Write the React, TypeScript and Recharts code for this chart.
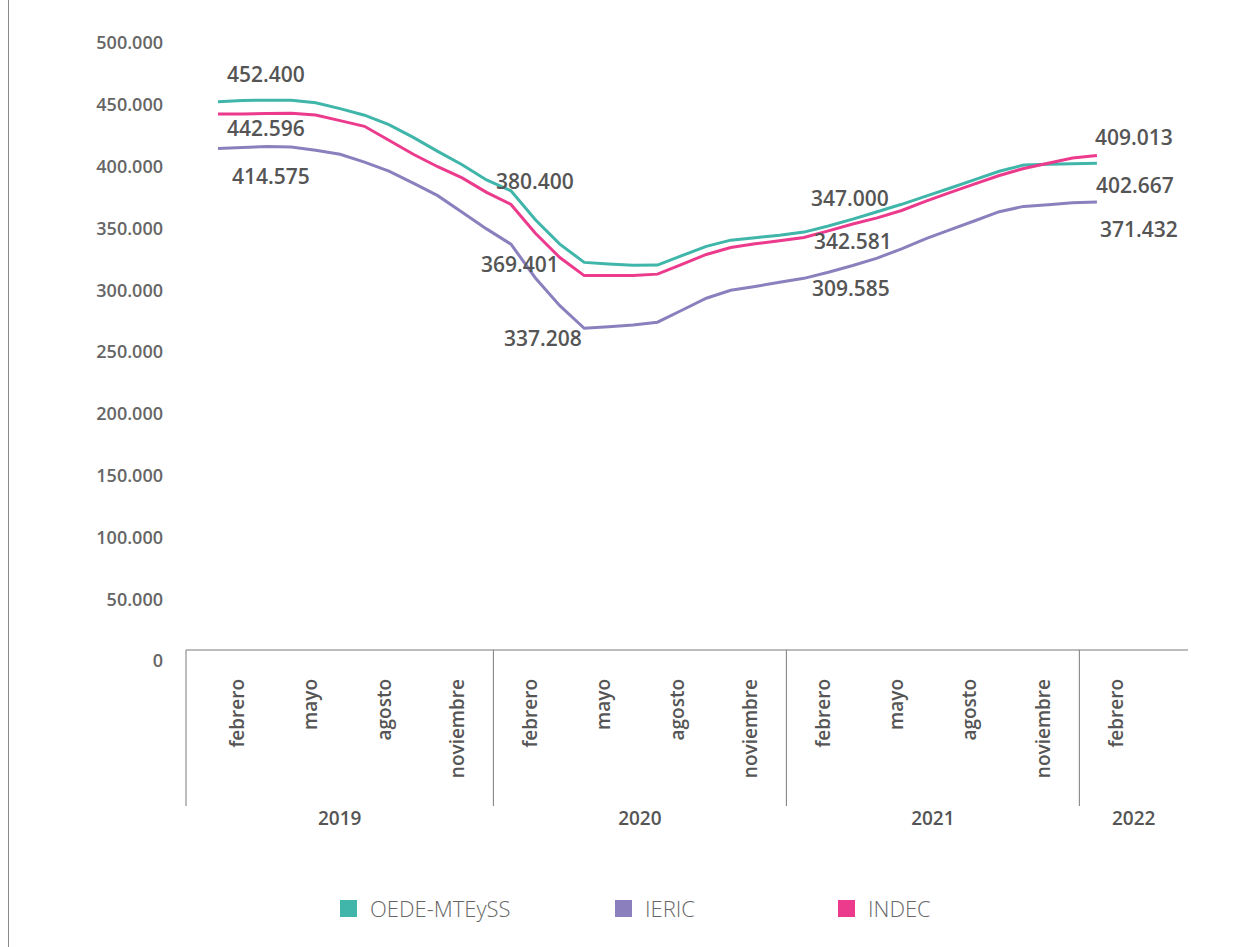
import { LineChart, Line, XAxis, YAxis, LabelList } from 'recharts';

// Puestos de trabajo registrados en la construcción, febrero 2019 - febrero 2022

const meses = [
  'enero', 'febrero', 'marzo', 'abril', 'mayo', 'junio',
  'julio', 'agosto', 'septiembre', 'octubre', 'noviembre', 'diciembre',
];
const anios = ['2019', '2020', '2021', '2022'];
const mesesVisibles = ['febrero', 'mayo', 'agosto', 'noviembre'];
const yTicks = [0, 50000, 100000, 150000, 200000, 250000, 300000, 350000, 400000, 450000, 500000];

const oede = [
  452400, 453500, 453700, 453600, 451600, 446900, 441600, 433900, 423600, 412300, 401500, 389200,
  380400, 357000, 337300, 322500, 321200, 320200, 320300, 327900, 335500, 340500, 342500, 344500,
  347000, 352000, 357500, 363500, 369500, 376100, 382700, 389400, 396200, 401200, 401900, 402400,
  402667,
];
const ieric = [
  414575, 415400, 416200, 415800, 413200, 410000, 403600, 396300, 386600, 376500, 363100, 349600,
  337208, 309900, 287500, 269200, 270500, 271800, 274100, 283800, 293500, 299900, 303000, 306500,
  309585, 314500, 320000, 326000, 333500, 341700, 349000, 356200, 363500, 367800, 369200, 370700,
  371432,
];
const indec = [
  442596, 442600, 442900, 443100, 441800, 437200, 432600, 421300, 410000, 399900, 390900, 379200,
  369401, 346100, 326400, 311800, 311800, 311800, 313000, 320900, 328900, 334500, 337500, 340000,
  342581, 348000, 353500, 358500, 364500, 372000, 379200, 386000, 392800, 398500, 402700, 406900,
  409013,
];

const COLORS = { oede: '#40b5aa', ieric: '#8b80bd', indec: '#ec3a8d' };
const FONT = '"Open Sans", "Noto Sans", sans-serif';

// the category slots of the original sit a bit to the right of the points
const SHIFT = 0.78;
const X_MIN = -1.31;
const X_MAX = 39.73;

const periods = oede.map((_, i) => ({
  idx: i,
  mes: meses[(1 + i) % 12],
  anio: String(2019 + Math.floor((1 + i) / 12)),
}));

const data = periods.map((p, i) => ({ ...p, oede: oede[i], ieric: ieric[i], indec: indec[i] }));

// ticks: month labels, year separators and year labels on one axis
type TickInfo = { kind: 'mes' | 'sep' | 'anio'; text: string };
const tickInfo = new Map<number, TickInfo>();
periods.forEach((p) => {
  if (mesesVisibles.includes(p.mes)) tickInfo.set(p.idx + SHIFT, { kind: 'mes', text: p.mes });
});
const bounds = [
  X_MIN,
  ...periods.filter((p) => p.mes === 'enero').map((p) => p.idx - 0.5 + SHIFT),
  X_MAX,
];
bounds.slice(0, -1).forEach((b, k) => {
  tickInfo.set(b, { kind: 'sep', text: '' });
  tickInfo.set((b + bounds[k + 1]) / 2, { kind: 'anio', text: anios[k] });
});
const xTicks = [...tickInfo.keys()].sort((a, b) => a - b);

const fmt = (v: number) => String(Math.round(v)).replace(/\B(?=(\d{3})+(?!\d))/g, '.');

// offsets of the value labels (px), by point index
const labelOffsets: Record<string, Record<number, [number, number]>> = {
  oede: { 0: [48, -28], 12: [24, -10], 24: [46, -34], 36: [38, 22] },
  indec: { 0: [48, 14], 12: [9, 60], 24: [49, 3], 36: [37, -18] },
  ieric: { 0: [53, 27], 12: [32, 94], 24: [47, 10], 36: [42, 27] },
};

const AxisTick = (props: any) => {
  const { x, y, payload } = props;
  const info = tickInfo.get(payload.value);
  if (!info) return <g />;
  if (info.kind === 'sep') {
    return <line x1={x} x2={x} y1={y - 11} y2={y + 145} stroke="#7a7a7a" strokeWidth={1} />;
  }
  if (info.kind === 'mes') {
    const ty = y + 18;
    return (
      <text
        x={x}
        y={ty}
        transform={`rotate(-90 ${x} ${ty})`}
        textAnchor="end"
        dominantBaseline="central"
        fontSize={19}
        fontWeight={600}
        fill="#555"
        fontFamily={FONT}
      >
        {info.text}
      </text>
    );
  }
  return (
    <text
      x={x}
      y={y + 157}
      textAnchor="middle"
      dominantBaseline="central"
      fontSize={19}
      fontWeight={600}
      fill="#555"
      fontFamily={FONT}
    >
      {info.text}
    </text>
  );
};

const valueLabel = (key: string) => (props: any) => {
  const { x, y, value, index } = props;
  const off = labelOffsets[key][index];
  if (!off) return null;
  return (
    <text
      x={x + off[0]}
      y={y + off[1]}
      textAnchor="middle"
      dominantBaseline="central"
      fontSize={21}
      fontWeight={600}
      fill="#555"
      fontFamily={FONT}
    >
      {fmt(value)}
    </text>
  );
};

const legendItems = [
  { key: 'oede', name: 'OEDE-MTEySS', width: 275 },
  { key: 'ieric', name: 'IERIC', width: 223 },
  { key: 'indec', name: 'INDEC', width: 120 },
];

export default function App() {
  return (
    <div
      style={{
        position: 'absolute',
        left: 8,
        top: 0,
        width: 1243,
        height: 947,
        borderLeft: '1px solid #8a8a8a',
        boxSizing: 'border-box',
        background: '#fff',
        fontFamily: FONT,
      }}
    >
      <LineChart
        width={1242}
        height={947}
        data={data}
        margin={{ top: 43, right: 63, bottom: 101, left: 0 }}
      >
        <XAxis
          dataKey="idx"
          type="number"
          domain={[X_MIN, X_MAX]}
          ticks={xTicks}
          interval={0}
          tick={<AxisTick />}
          tickLine={false}
          tickSize={0}
          tickMargin={0}
          height={185}
          axisLine={{ stroke: '#7a7a7a', strokeWidth: 1, transform: 'translate(0,-11)' }}
        />
        <YAxis
          domain={[0, 500000]}
          ticks={yTicks}
          tickFormatter={fmt}
          axisLine={false}
          tickLine={false}
          tickSize={0}
          tickMargin={23}
          width={177}
          tick={{ fontSize: 18, fontWeight: 600, fill: '#666', fontFamily: FONT }}
        />
        <Line
          dataKey="oede"
          stroke={COLORS.oede}
          strokeWidth={3}
          dot={false}
          isAnimationActive={false}
        >
          <LabelList dataKey="oede" content={valueLabel('oede')} />
        </Line>
        <Line
          dataKey="ieric"
          stroke={COLORS.ieric}
          strokeWidth={3}
          dot={false}
          isAnimationActive={false}
        >
          <LabelList dataKey="ieric" content={valueLabel('ieric')} />
        </Line>
        <Line
          dataKey="indec"
          stroke={COLORS.indec}
          strokeWidth={3}
          dot={false}
          isAnimationActive={false}
        >
          <LabelList dataKey="indec" content={valueLabel('indec')} />
        </Line>
      </LineChart>

      {/* legend */}
      <div style={{ position: 'absolute', left: 331, top: 893, display: 'flex' }}>
        {legendItems.map((it) => (
          <div key={it.key} style={{ width: it.width, display: 'flex', alignItems: 'center' }}>
            <span
              style={{
                display: 'inline-block',
                width: 17,
                height: 17,
                background: COLORS[it.key as keyof typeof COLORS],
                marginRight: 13,
              }}
            />
            <span style={{ fontSize: 22, fontWeight: 300, color: '#666' }}>{it.name}</span>
          </div>
        ))}
      </div>
    </div>
  );
}
